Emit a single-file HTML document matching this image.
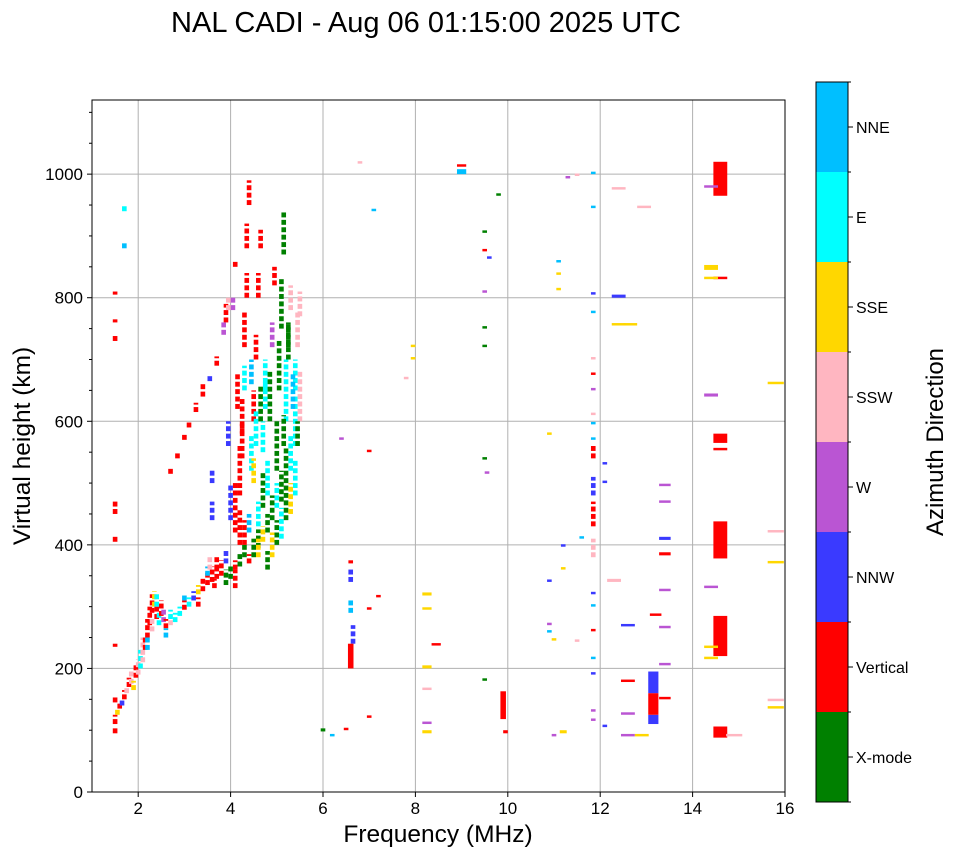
<!DOCTYPE html>
<html><head><meta charset="utf-8"><style>
body{margin:0;background:#fff;width:958px;height:857px;overflow:hidden;font-family:"Liberation Sans","DejaVu Sans",sans-serif}
</style></head><body>
<svg id="chart" width="958" height="857" xmlns="http://www.w3.org/2000/svg" font-family="Liberation Sans, DejaVu Sans, sans-serif">
<text x="426" y="32" font-size="29" text-anchor="middle">NAL CADI - Aug 06 01:15:00 2025 UTC</text>
<g id="grid"></g><g id="marks"></g><g id="axes"></g><g id="cbar"></g>
<text x="438" y="842" font-size="24.5" text-anchor="middle">Frequency (MHz)</text>
<text x="30" y="446" font-size="24.5" text-anchor="middle" transform="rotate(-90 30 446)">Virtual height (km)</text>
<text x="943" y="442" font-size="24" text-anchor="middle" transform="rotate(-90 943 442)">Azimuth Direction</text>
</svg>
<script>
const azLabels=["X-mode","Vertical","NNW","W","SSW","SSE","E","NNE"];
const azColors=["#008000","#ff0000","#3a3aff","#ba55d3","#ffb6c1","#ffd700","#00ffff","#00bfff"];
const xTicks=[2,4,6,8,10,12,14,16];
const yTicks=[0,200,400,600,800,1000];
// narrow echoes (0.1 MHz wide)
const echoFreq=[1.5,1.5,1.55,1.6,1.5,1.5,1.5,1.5,1.5,1.5,1.5,
1.65,1.7,1.75,1.8,1.85,1.9,1.95,2.0,2.05,2.1,2.15,2.2,2.25,2.3,2.35,2.4,2.45,2.5,2.55,2.6,2.7,2.8,2.9,3.0,3.1,3.2,3.3,3.4,3.5,3.6,3.7,3.8,3.9,4.0,4.1,4.2,4.3,4.4,4.5,4.6,4.7,4.8,4.9,5.0,5.1,5.2,5.3,5.4,5.5,
4.2,4.2,4.25,4.3,4.3,4.35,4.35,4.4,4.45,4.5,4.55,4.6,4.65,4.7,4.75,4.8,4.85,4.9,4.95,5.0,5.05,5.1,5.15,5.2,5.25,5.3,5.4,5.45,5.5,4.1,4.0,3.95,4.05,3.9,4.1,4.6,4.7,4.5,
2.2,2.3,2.4,2.6,2.7,3.0,3.3,3.5,3.7,3.9,4.1,4.3,4.4,4.6,4.8,4.9,5.0,5.1,5.2,5.3,5.4,4.15,4.25,4.45,4.55,4.65,4.75,5.15,5.25,5.35,5.45,3.55,3.65,
2.7,2.85,3.0,3.1,3.25,3.4,3.55,3.7,3.85,3.95,3.6,3.6,1.7,1.7,
6.0,6.2,6.5,6.65,6.6,6.6,6.6,6.4,6.8,7.0,7.0,7.1,7.0,7.2,7.8,7.95,7.95,
9.5,9.55,9.5,9.5,9.5,9.5,9.5,9.5,9.6,9.8,9.95,
10.9,10.9,10.9,10.9,11.0,11.0,11.2,11.2,11.1,11.1,11.1,11.3,11.5,11.5,11.6,
11.85,11.85,11.85,11.85,11.85,11.85,11.85,11.85,11.85,11.85,11.85,11.85,11.85,11.85,11.85,11.85,11.85,11.85,11.85,11.85,11.85,
12.1,12.1,12.1];
const echoHeight=[95,110,125,135,145,235,405,450,760,805,730,
140,150,160,170,175,165,185,190,200,210,230,250,270,290,300,280,270,285,275,265,270,275,285,295,300,310,320,325,335,340,345,350,335,345,360,365,380,370,380,395,405,420,440,460,470,500,520,560,600,
400,480,580,650,720,800,880,950,520,600,700,800,880,550,650,480,600,720,820,520,650,750,870,600,700,780,650,720,770,420,440,560,780,760,850,380,460,500,
230,260,300,250,280,310,300,350,360,370,330,400,420,430,360,380,400,410,440,450,480,620,540,660,560,600,620,560,720,620,560,360,330,
515,540,570,590,615,640,665,690,740,780,500,440,940,880,
98,90,100,240,290,340,370,570,1017,120,295,940,550,315,668,700,720,
180,515,538,720,750,808,875,905,863,965,95,
340,578,270,258,245,90,360,397,812,837,857,993,997,243,410,
115,130,190,215,260,300,320,380,430,480,540,570,595,610,650,675,700,775,805,945,1000,
105,500,530];
const echoSpan=[10,15,10,10,8,5,10,20,5,5,10,
10,15,10,15,20,15,20,25,30,40,20,30,30,30,25,20,20,25,20,15,15,15,15,15,15,15,15,20,20,25,20,25,25,20,15,20,20,15,30,30,25,30,40,40,50,60,60,80,80,
60,80,60,40,60,40,40,40,60,50,40,40,30,50,50,60,80,40,30,80,80,80,70,100,60,40,50,60,40,80,60,40,20,30,8,30,60,40,
20,20,20,15,15,10,15,15,20,20,30,40,30,40,30,40,40,50,60,50,60,60,60,40,60,60,50,50,40,60,40,20,15,
10,10,10,10,15,20,10,15,20,20,20,30,10,10,
5,4,4,30,20,20,5,3,2,3,3,3,3,3,3,3,3,
4,3,3,3,3,3,3,3,3,3,5,
3,3,3,3,3,3,3,3,3,3,3,3,3,3,3,
3,3,3,3,3,3,3,30,40,30,20,3,3,3,3,3,3,3,3,3,3,
3,3,3];
const echoAz=[1,1,5,1,1,1,1,1,1,1,1,
2,1,4,1,4,5,1,4,6,4,1,1,1,1,5,1,6,1,3,1,4,6,6,1,6,2,5,1,1,1,1,1,0,0,1,0,0,1,0,0,5,0,0,6,0,0,6,6,4,
1,1,1,6,1,1,1,1,6,1,1,1,1,6,6,6,0,3,1,0,0,0,0,6,0,4,6,4,4,1,2,2,3,1,1,5,0,5,
7,4,6,7,6,7,1,7,1,2,1,1,7,6,0,5,0,6,0,5,6,1,1,7,6,0,6,0,0,7,0,4,1,
1,1,1,1,1,1,2,1,3,4,2,2,6,7,
0,7,1,2,7,2,1,3,4,1,1,7,1,1,4,5,5,
0,3,0,0,0,3,1,0,2,0,1,
2,5,3,7,5,3,5,2,5,5,7,3,4,4,7,
3,3,2,7,1,7,2,4,1,2,1,7,7,4,3,1,4,7,2,7,7,
2,2,2];
// wide blocks
const blockFreq=[14.6,14.6,14.6,14.6,14.6,14.6,14.6,13.15,13.15,13.15,9.9,6.6,12.4,12.3,12.4,12.65,12.6,12.6,12.6,12.6,12.9,12.95,12.4,
14.4,14.4,14.4,14.4,14.4,14.4,14.4,14.9,15.8,15.8,15.8,15.8,15.8,13.4,13.4,13.4,13.4,13.4,13.4,13.4,13.4,13.2,9.0,9.0,8.25,8.25,8.25,8.25,8.25,8.25,8.45,11.2];
const blockHeight=[88,220,378,565,965,553,830,110,125,160,118,200,800,340,755,755,268,178,125,90,90,945,975,
215,233,330,640,830,845,978,90,135,147,370,420,660,150,205,265,325,383,408,468,495,285,1000,1012,318,295,200,95,110,165,237,95];
const blockSpan=[18,65,60,15,55,3,3,15,35,35,45,40,5,5,3,3,3,3,3,3,3,3,2,
3,3,3,5,3,8,3,3,3,3,3,3,3,3,3,3,3,5,5,3,3,3,8,3,5,3,5,5,3,3,3,5];
const blockWidth=[0.3,0.3,0.3,0.3,0.3,0.3,0.3,0.22,0.22,0.22,0.12,0.12,0.3,0.3,0.3,0.3,0.3,0.3,0.3,0.3,0.3,0.3,0.3,
0.3,0.3,0.3,0.3,0.3,0.3,0.3,0.35,0.35,0.35,0.35,0.35,0.35,0.25,0.25,0.25,0.25,0.25,0.25,0.25,0.25,0.25,0.2,0.2,0.2,0.2,0.2,0.2,0.2,0.2,0.2,0.15];
const blockAz=[1,1,1,1,1,1,1,2,1,2,1,1,2,4,5,5,2,1,3,3,5,4,4,
5,5,3,3,5,5,3,4,5,4,5,4,5,1,3,3,3,1,2,3,3,1,7,1,5,5,5,5,3,4,1,5];

const NS="http://www.w3.org/2000/svg";
const L=92,R=785,T=100,B=792;
const X=f=>L+(f-1)*(R-L)/15;
const Y=h=>B-h*(B-T)/1120;
function mk(tag,attrs,parent){const e=document.createElementNS(NS,tag);for(const k in attrs)e.setAttribute(k,attrs[k]);parent.appendChild(e);return e;}
const grid=document.getElementById('grid'),marks=document.getElementById('marks'),axes=document.getElementById('axes'),cbar=document.getElementById('cbar');
xTicks.forEach(t=>{const g=mk('line',{x1:X(t),x2:X(t),y1:T,y2:B,stroke:'#b0b0b0','stroke-width':1},grid);


mk('line',{x1:X(t),x2:X(t),y1:B,y2:B+5,stroke:'#000'},axes);
const tx=mk('text',{x:X(t),y:B+22,'font-size':17,'text-anchor':'middle'},axes);tx.textContent=t;

});
yTicks.forEach(t=>{if(t>0){const g=mk('line',{x1:L,x2:R,y1:Y(t),y2:Y(t),stroke:'#b0b0b0','stroke-width':1},grid);

}
mk('line',{x1:L-5,x2:L,y1:Y(t),y2:Y(t),stroke:'#000'},axes);
const tx=mk('text',{x:L-9,y:Y(t)+6,'font-size':17,'text-anchor':'end'},axes);tx.textContent=t;

});
for(let h=50;h<1120;h+=50){if(h%200)mk('line',{x1:L-3,x2:L,y1:Y(h),y2:Y(h),stroke:'#000'},axes);}
for(let i=0;i<echoFreq.length;i++){const f=echoFreq[i],h=echoHeight[i],s=Math.max(echoSpan[i],4);
// long echoes are drawn as speckled range bins
for(let b=0;b<s;b+=12){const top=Math.min(b+8,s);
const r=mk('rect',{x:X(f-0.05),y:Y(h+top),width:X(f+0.05)-X(f-0.05),height:Y(h+b)-Y(h+top),fill:azColors[echoAz[i]]},marks);

}}
for(let i=0;i<blockFreq.length;i++){const f=blockFreq[i],h=blockHeight[i],s=Math.max(blockSpan[i],4),w=blockWidth[i];
const r=mk('rect',{x:X(f-w/2),y:Y(h+s),width:X(f+w/2)-X(f-w/2),height:Y(h)-Y(h+s),fill:azColors[blockAz[i]]},marks);

}
const fr=mk('rect',{x:L,y:T,width:R-L,height:B-T,fill:'none',stroke:'#000','stroke-width':1},axes);


const CT=82,CB=802,CL=816,CR=848,seg=(CB-CT)/azLabels.length;
azLabels.forEach((lab,i)=>{const y0=CB-(i+1)*seg;
const r=mk('rect',{x:CL,y:y0,width:CR-CL,height:seg,fill:azColors[i]},cbar);


mk('line',{x1:CR,x2:CR+5,y1:y0+seg/2,y2:y0+seg/2,stroke:'#000'},cbar);
const tx=mk('text',{x:CR+8,y:y0+seg/2+6,'font-size':16},cbar);tx.textContent=lab;

});
for(let i=0;i<=azLabels.length;i++)mk('line',{x1:CR,x2:CR+3,y1:CT+i*seg,y2:CT+i*seg,stroke:'#000'},cbar);
mk('rect',{x:CL,y:CT,width:CR-CL,height:CB-CT,fill:'none',stroke:'#000','stroke-width':1},cbar);
</script>
</body></html>
